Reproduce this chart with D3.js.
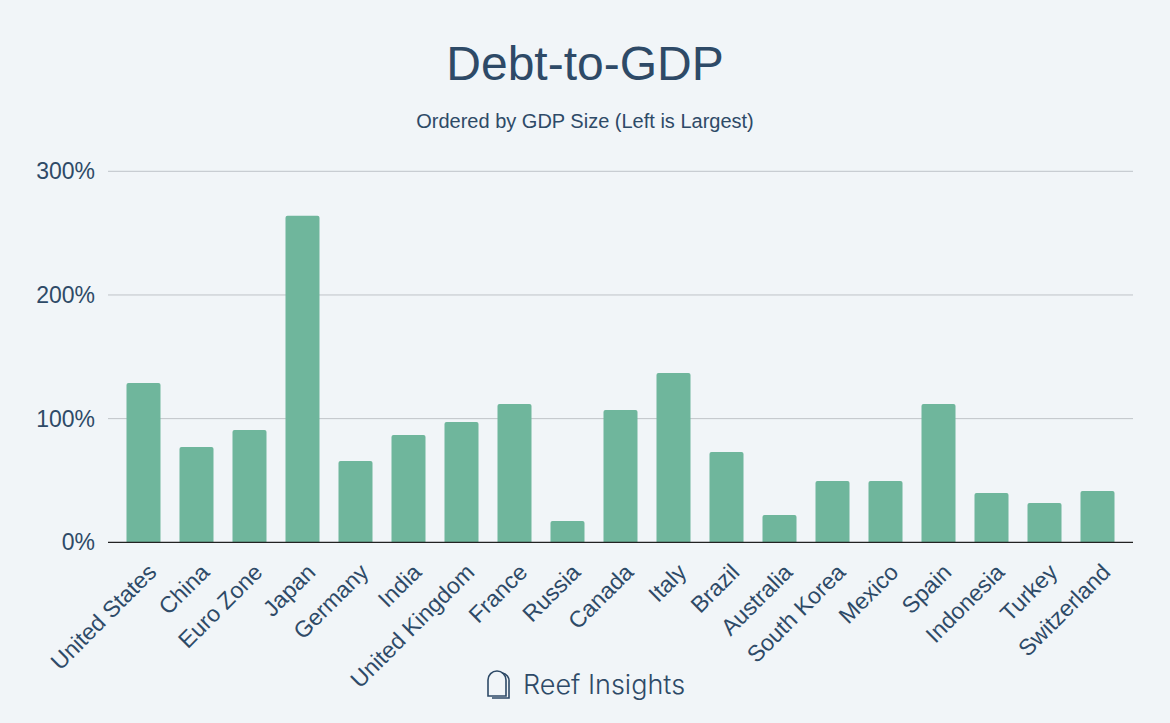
<!DOCTYPE html>
<html><head><meta charset="utf-8">
<script src="https://cdn.jsdelivr.net/npm/d3@7"></script>
<style>
html,body{margin:0;padding:0;background:#f1f5f8;}
svg{display:block;}
</style></head>
<body>
<svg id="chart" width="1170" height="723"></svg>
<script>
const categories = ["United States","China","Euro Zone","Japan","Germany","India","United Kingdom","France","Russia","Canada","Italy","Brazil","Australia","South Korea","Mexico","Spain","Indonesia","Turkey","Switzerland"];
const debtToGdp = [128.8,77.0,90.8,264.0,65.7,86.7,97.2,111.8,17.2,107.0,137.0,73.0,22.0,49.6,49.6,111.8,39.9,31.8,41.5];
const yTicks = [0,100,200,300];
const titleText = "Debt-to-GDP";
const subtitleText = "Ordered by GDP Size (Left is Largest)";
const brandText = "Reef Insights";

const svg = d3.select("#chart");
const W = 1170, H = 723;
const textColor = "#2e4a67";
svg.append("rect").attr("width",W).attr("height",H).attr("fill","#f1f5f8");

const m = {left:108, right:1133, top:171.3, bottom:542.3};
const x = d3.scaleBand().domain(categories).range([m.left,m.right]).paddingInner(0.3585).paddingOuter(0.349);
const y = d3.scaleLinear().domain([0,300]).range([m.bottom,m.top]);

// title
svg.append("text").attr("x",585).attr("y",80).attr("text-anchor","middle")
  .attr("font-family","Liberation Sans, Arial, sans-serif").attr("font-size",48).attr("fill",textColor).text(titleText);
svg.append("text").attr("x",585).attr("y",128).attr("text-anchor","middle")
  .attr("font-family","Liberation Sans, Arial, sans-serif").attr("font-size",20).attr("fill",textColor).text(subtitleText);

// grid
const grid = svg.append("g");
grid.selectAll("line").data(yTicks.filter(d=>d>0)).join("line")
  .attr("x1",m.left).attr("x2",m.right).attr("y1",d=>y(d)).attr("y2",d=>y(d))
  .attr("stroke","#bfc4c9").attr("stroke-width",1);

// y axis labels
const yAxis = d3.axisLeft(y).tickValues(yTicks).tickFormat(d=>d+"%").tickSize(0).tickPadding(13);
const yg = svg.append("g").attr("transform",`translate(${m.left},0)`).call(yAxis);
yg.select(".domain").remove();
yg.selectAll("text").attr("font-family","Liberation Sans, Arial, sans-serif").attr("font-size",23).attr("fill",textColor);

// bars with rounded top corners
const r = 2;
svg.append("g").selectAll("path").data(categories).join("path")
  .attr("fill","#6fb69c")
  .attr("d",(c,i)=>{
    const x0 = x(c), w = x.bandwidth(), y0 = y(debtToGdp[i]), yb = y(0);
    return `M${x0},${yb}V${y0+r}Q${x0},${y0} ${x0+r},${y0}H${x0+w-r}Q${x0+w},${y0} ${x0+w},${y0+r}V${yb}Z`;
  });

// baseline
svg.append("line").attr("x1",m.left).attr("x2",m.right).attr("y1",y(0)).attr("y2",y(0))
  .attr("stroke","#222").attr("stroke-width",1.3);

// x labels
const xAxis = d3.axisBottom(x).tickSize(0).tickPadding(0);
const xg = svg.append("g").attr("transform",`translate(0,${m.bottom})`).call(xAxis);
xg.select(".domain").remove();
xg.selectAll(".tick text")
  .attr("font-family","Liberation Sans, Arial, sans-serif").attr("font-size",23).attr("fill",textColor)
  .attr("text-anchor","end").attr("dy",null).attr("y",null)
  .attr("transform","translate(10,27) rotate(-45)")
  .attr("dominant-baseline","middle");

// brand
const bx = 487, by = 670;
const logo = svg.append("g").attr("fill","none").attr("stroke",textColor).attr("stroke-width",1.6);
logo.append("path").attr("d",`M${bx+1},${by+26}V${by+10}A9,9 0 0 1 ${bx+19},${by+10}V${by+26}Z`);
logo.append("path").attr("d",`M${bx+5},${by+28}H${bx+22}V${by+12}A8,8 0 0 0 ${bx+15},${by+3}`);
svg.append("text").attr("x",523).attr("y",694)
  .attr("font-family","Inter, sans-serif").attr("font-weight",300).attr("font-size",27).attr("fill",textColor).text(brandText);
</script>
</body></html>
